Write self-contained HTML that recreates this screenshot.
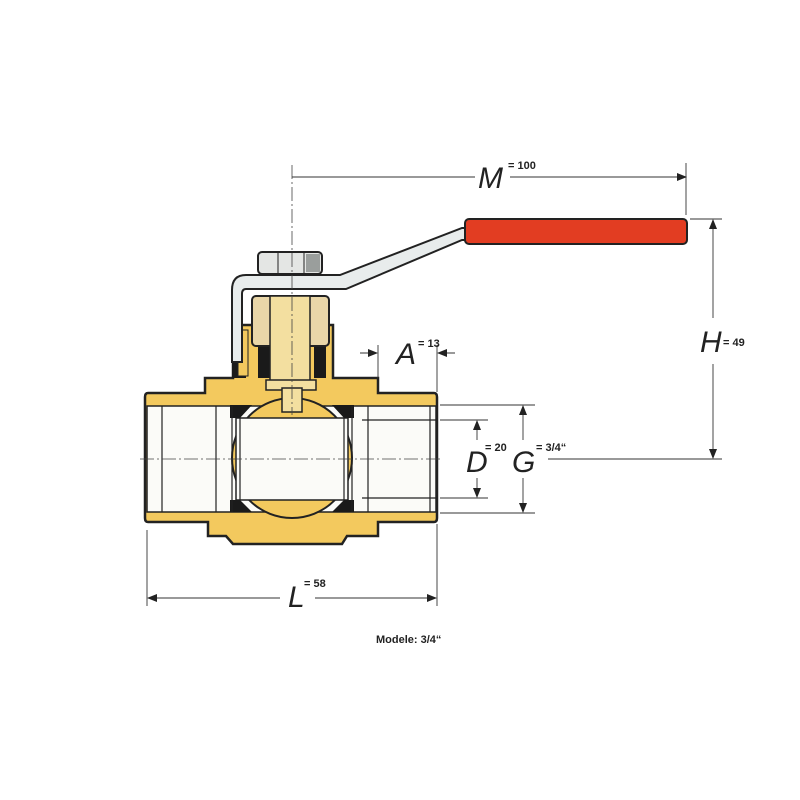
<!DOCTYPE html>
<html><head><meta charset="utf-8"><style>
html,body{margin:0;padding:0;background:#fff;}
svg{display:block}
.lbl{font-family:"Liberation Sans",sans-serif;font-style:italic;font-size:30px;fill:#222}
.sm{font-family:"Liberation Sans",sans-serif;font-weight:bold;font-size:11px;fill:#222}
</style></head><body>
<svg width="800" height="800" viewBox="0 0 800 800" xmlns="http://www.w3.org/2000/svg">
<defs>
<marker id="ar" markerWidth="10" markerHeight="8" refX="9" refY="4" orient="auto" markerUnits="userSpaceOnUse">
<path d="M0,0 L10,4 L0,8 z" fill="#222"/></marker>
<clipPath id="bore"><rect x="148" y="406" width="288" height="106"/></clipPath>
</defs>
<rect width="800" height="800" fill="#fff"/>

<!-- brass body -->
<path d="M148,393 H205 V378 H233 V325 H333 V378 H378 V393 H434 Q437,393 437,397 V518 Q437,522 434,522 H378 V536 H347 L342,544 H233 L226,536 V536 H208 V522 H148 Q145,522 145,518 V397 Q145,393 148,393 Z" fill="#f3c95e" stroke="#222" stroke-width="2.5"/>
<!-- bore -->
<rect x="147" y="406" width="289" height="106" fill="#fbfbf8" stroke="#222" stroke-width="1.5"/>
<!-- ball -->
<circle cx="292" cy="458" r="60" fill="#f3c95e" stroke="#222" stroke-width="2"/>
<rect x="236" y="418" width="112" height="82" fill="#fbfbf8" stroke="#222" stroke-width="1.5"/>
<!-- seats -->
<path d="M230,405 H252 L240,418 H230 Z" fill="#1a1a1a"/>
<path d="M354,405 H332 L344,418 H354 Z" fill="#1a1a1a"/>
<path d="M230,512 H252 L240,500 H230 Z" fill="#1a1a1a"/>
<path d="M354,512 H332 L344,500 H354 Z" fill="#1a1a1a"/>
<!-- inner lines -->
<g stroke="#222" stroke-width="1.2" fill="none">
<line x1="162" y1="406" x2="162" y2="512"/>
<line x1="216" y1="406" x2="216" y2="512"/>
<line x1="232" y1="406" x2="232" y2="512"/>
<line x1="240" y1="418" x2="240" y2="500"/>
<line x1="344" y1="418" x2="344" y2="500"/>
<line x1="352" y1="406" x2="352" y2="512"/>
<line x1="368" y1="406" x2="368" y2="512"/>
<line x1="430" y1="406" x2="430" y2="512"/>
<line x1="362" y1="420" x2="437" y2="420"/>
<line x1="362" y1="498" x2="437" y2="498"/>
</g>
<!-- stem housing -->
<rect x="232" y="330" width="14" height="48" fill="#1a1a1a"/>
<rect x="238" y="330" width="10" height="46" fill="#f3c95e" stroke="#222"/>
<rect x="258" y="338" width="12" height="40" fill="#1a1a1a"/>
<rect x="314" y="338" width="12" height="40" fill="#1a1a1a"/>
<rect x="252" y="296" width="77" height="50" rx="4" fill="#e9d6a8" stroke="#222" stroke-width="2"/>
<rect x="270" y="296" width="40" height="90" fill="#f3dfa0" stroke="#222" stroke-width="1.5"/>
<rect x="266" y="380" width="50" height="10" fill="#f3dfa0" stroke="#222" stroke-width="1.5"/>
<rect x="282" y="388" width="20" height="24" fill="#f3dfa0" stroke="#222" stroke-width="1.5"/>
<!-- handle -->
<path d="M232,362 V290 Q232,275 246,275 H340 L462,228 H470 V240 H462 L346,289 H246 Q242,289 242,294 V362 Z" fill="#e8ecec" stroke="#222" stroke-width="2"/>
<rect x="258" y="252" width="64" height="22" rx="4" fill="#e4e6e4" stroke="#222" stroke-width="2"/>
<rect x="306" y="254" width="14" height="18" fill="#9a9e9c"/>
<line x1="278" y1="252" x2="278" y2="274" stroke="#222"/>
<line x1="304" y1="252" x2="304" y2="274" stroke="#222"/>
<rect x="465" y="219" width="222" height="25" rx="4" fill="#e23d22" stroke="#222" stroke-width="2"/>

<!-- center lines -->
<g stroke="#444" stroke-width="0.8" stroke-dasharray="14,3,2,3" fill="none">
<line x1="292" y1="165" x2="292" y2="415"/>
<line x1="140" y1="459" x2="440" y2="459"/>
</g>
<!-- dimensions -->
<g stroke="#333" stroke-width="0.9" fill="none">
<line x1="686" y1="163" x2="686" y2="215"/>
<line x1="292" y1="177" x2="475" y2="177"/>
<line x1="510" y1="177" x2="686" y2="177" marker-end="url(#ar)"/>
<line x1="690" y1="219" x2="722" y2="219"/>
<line x1="548" y1="459" x2="722" y2="459"/>
<line x1="713" y1="318" x2="713" y2="220" marker-end="url(#ar)"/>
<line x1="713" y1="364" x2="713" y2="458" marker-end="url(#ar)"/>
<line x1="378" y1="345" x2="378" y2="378"/>
<line x1="437" y1="345" x2="437" y2="392"/>
<line x1="360" y1="353" x2="377" y2="353" marker-end="url(#ar)"/>
<line x1="455" y1="353" x2="438" y2="353" marker-end="url(#ar)"/>
<line x1="440" y1="405" x2="535" y2="405"/>
<line x1="440" y1="513" x2="535" y2="513"/>
<line x1="440" y1="420" x2="488" y2="420"/>
<line x1="440" y1="498" x2="488" y2="498"/>
<line x1="477" y1="440" x2="477" y2="421" marker-end="url(#ar)"/>
<line x1="477" y1="478" x2="477" y2="497" marker-end="url(#ar)"/>
<line x1="523" y1="440" x2="523" y2="406" marker-end="url(#ar)"/>
<line x1="523" y1="478" x2="523" y2="512" marker-end="url(#ar)"/>
<line x1="147" y1="530" x2="147" y2="606"/>
<line x1="437" y1="524" x2="437" y2="606"/>
<line x1="280" y1="598" x2="148" y2="598" marker-end="url(#ar)"/>
<line x1="315" y1="598" x2="436" y2="598" marker-end="url(#ar)"/>
</g>
<text class="lbl" x="478" y="188">M</text><text class="sm" x="508" y="169">= 100</text>
<text class="lbl" x="700" y="352">H</text><text class="sm" x="723" y="346">= 49</text>
<text class="lbl" x="396" y="364">A</text><text class="sm" x="418" y="347">= 13</text>
<text class="lbl" x="466" y="472">D</text><text class="sm" x="485" y="451">= 20</text>
<text class="lbl" x="512" y="472">G</text><text class="sm" x="536" y="451">= 3/4“</text>
<text class="lbl" x="288" y="607">L</text><text class="sm" x="304" y="587">= 58</text>
<text class="sm" x="376" y="643">Modele: 3/4“</text>
</svg>
</body></html>
